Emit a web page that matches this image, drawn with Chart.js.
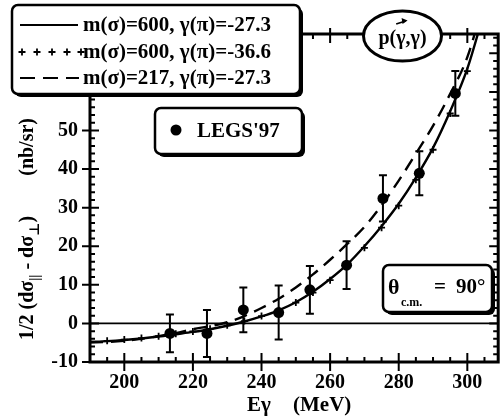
<!DOCTYPE html>
<html>
<head>
<meta charset="utf-8">
<script src="https://cdn.jsdelivr.net/npm/chart.js@4.4.0/dist/chart.umd.min.js"></script>
<style>
  html, body { margin: 0; padding: 0; background: #fff; }
</style>
</head>
<body>
<canvas id="chart" width="504" height="417"></canvas>
<script>
// Model curves, sampled every 5 MeV
const energyGrid = [190, 195, 200, 205, 210, 215, 220, 225, 230, 235, 240, 245,
                    250, 255, 260, 265, 270, 275, 280, 285, 290, 295, 300, 305];
const curveSolid = [-4.8, -4.6, -4.3, -3.9, -3.4, -2.8, -2.2, -1.5, -0.6, 0.5, 1.8, 3.4,
                    5.5, 8.2, 11.5, 15.3, 20.0, 25.2, 31.0, 37.8, 45.5, 55.0, 66.0, 81.0];
const curvePlus = [-4.7, -4.5, -4.2, -3.8, -3.3, -2.7, -2.1, -1.4, -0.5, 0.6, 1.9, 3.4,
                   5.4, 8.0, 11.2, 15.0, 19.6, 24.8, 30.5, 37.2, 45.0, 54.4, 65.4, 80.0];
const curveDashed = [-4.9, -4.8, -4.5, -4.0, -3.3, -2.5, -1.5, -0.7, 0.3, 1.9, 4.0, 6.4,
                     9.3, 12.7, 16.5, 20.6, 25.0, 30.6, 37.0, 44.0, 51.2, 59.5, 69.0, 84.0];

// LEGS'97 measurements
const dataEnergy = [213.3, 224.1, 234.7, 245.0, 254.1, 264.8, 275.4, 286.0, 296.5];
const dataValue = [-2.6, -2.6, 3.5, 2.8, 8.7, 15.1, 32.4, 38.9, 59.6];
const dataError = [4.9, 6.1, 5.8, 7.0, 6.2, 6.2, 6.0, 5.7, 5.8];

const xTicks = [200, 220, 240, 260, 280, 300];
const yTicks = [-10, 0, 10, 20, 30, 40, 50];
const legendLabels = ['m(σ)=600, γ(π)=-27.3', 'm(σ)=600, γ(π)=-36.6', 'm(σ)=217, γ(π)=-27.3'];

const SERIF = '"Liberation Serif", "DejaVu Serif", serif';
const font = (size) => `bold ${size}px ${SERIF}`;

const toPoints = (ys) => energyGrid.map((x, i) => ({ x: x, y: ys[i] }));

function roundRect(ctx, x, y, w, h, r) {
    ctx.beginPath();
    ctx.moveTo(x + r, y);
    ctx.arcTo(x + w, y, x + w, y + h, r);
    ctx.arcTo(x + w, y + h, x, y + h, r);
    ctx.arcTo(x, y + h, x, y, r);
    ctx.arcTo(x, y, x + w, y, r);
    ctx.closePath();
}

function shadowBox(ctx, x, y, w, h) {
    ctx.fillStyle = '#000';
    roundRect(ctx, x + 3, y + 3, w, h, 6);
    ctx.fill();
    ctx.fillStyle = '#fff';
    roundRect(ctx, x, y, w, h, 6);
    ctx.fill();
    ctx.lineWidth = 2.5;
    ctx.strokeStyle = '#000';
    ctx.stroke();
}

function cross(ctx, x, y, s) {
    ctx.beginPath();
    ctx.moveTo(x - s, y); ctx.lineTo(x + s, y);
    ctx.moveTo(x, y - s); ctx.lineTo(x, y + s);
    ctx.stroke();
}

// frame, inward ticks, zero line and error bars
const framePlugin = {
    id: 'frame',
    afterDatasetsDraw(chart) {
        const ctx = chart.ctx;
        const a = chart.chartArea;
        const xs = chart.scales.x, ys = chart.scales.y;
        ctx.save();
        ctx.strokeStyle = '#000';
        ctx.fillStyle = '#000';

        // zero line
        ctx.lineWidth = 1.6;
        const y0 = ys.getPixelForValue(0);
        ctx.beginPath(); ctx.moveTo(a.left, y0); ctx.lineTo(a.right, y0); ctx.stroke();

        // error bars
        ctx.lineWidth = 2;
        dataEnergy.forEach((e, i) => {
            const px = xs.getPixelForValue(e);
            const top = ys.getPixelForValue(dataValue[i] + dataError[i]);
            const bot = ys.getPixelForValue(dataValue[i] - dataError[i]);
            ctx.beginPath();
            ctx.moveTo(px, top); ctx.lineTo(px, bot);
            ctx.moveTo(px - 4, top); ctx.lineTo(px + 4, top);
            ctx.moveTo(px - 4, bot); ctx.lineTo(px + 4, bot);
            ctx.stroke();
        });

        // box
        ctx.lineWidth = 3;
        ctx.strokeRect(a.left, a.top, a.right - a.left, a.bottom - a.top);

        // x ticks (bottom and top)
        ctx.lineWidth = 2;
        for (let v = 190; v <= xs.max; v += 5) {
            const px = xs.getPixelForValue(v);
            const major = xTicks.includes(v);
            const inLen = major ? 9 : 5;
            const outLen = major ? 9 : 0;
            ctx.beginPath();
            ctx.moveTo(px, a.bottom + outLen); ctx.lineTo(px, a.bottom - inLen);
            ctx.moveTo(px, a.top - (major ? 6 : 0)); ctx.lineTo(px, a.top + inLen);
            ctx.stroke();
        }
        // y ticks (left and right)
        for (let v = -10; v <= ys.max; v += 2) {
            const py = ys.getPixelForValue(v);
            const major = v % 10 === 0;
            const inLen = major ? 9 : 5;
            ctx.beginPath();
            ctx.moveTo(a.left - (major ? 8 : 0), py); ctx.lineTo(a.left + inLen, py);
            ctx.moveTo(a.right, py); ctx.lineTo(a.right - inLen, py);
            ctx.stroke();
        }
        ctx.restore();
    }
};

// legend, labels and boxes
const notePlugin = {
    id: 'notes',
    afterDraw(chart) {
        const ctx = chart.ctx;
        ctx.save();
        ctx.strokeStyle = '#000';
        ctx.fillStyle = '#000';

        // legend box
        shadowBox(ctx, 12, 5, 288, 89);
        const rows = [25, 52, 78];
        ctx.lineWidth = 2.2;
        ctx.beginPath(); ctx.moveTo(20, rows[0]); ctx.lineTo(78, rows[0]); ctx.stroke();
        ctx.lineWidth = 1.8;
        [22, 37, 52, 67, 81].forEach(cx => cross(ctx, cx, rows[1], 3.5));
        ctx.lineWidth = 2.2;
        ctx.setLineDash([15, 8]);
        ctx.beginPath(); ctx.moveTo(20, rows[2]); ctx.lineTo(79, rows[2]); ctx.stroke();
        ctx.setLineDash([]);
        ctx.fillStyle = '#000';
        ctx.font = font(21);
        ctx.textBaseline = 'middle';
        ctx.textAlign = 'left';
        legendLabels.forEach((t, i) => ctx.fillText(t, 83, rows[i] + 1));

        // reaction ellipse
        ctx.beginPath();
        ctx.ellipse(402.5, 36, 39, 25, 0, 0, Math.PI * 2);
        ctx.fillStyle = '#fff';
        ctx.fill();
        ctx.lineWidth = 3;
        ctx.stroke();
        ctx.fillStyle = '#000';
        ctx.font = font(20);
        ctx.textAlign = 'left';
        ctx.textBaseline = 'alphabetic';
        const reac = 'p(γ,γ)';
        const rw = ctx.measureText(reac).width;
        const rx = 402.5 - rw / 2;
        ctx.fillText(reac, rx, 44);
        const gx = rx + ctx.measureText('p(').width;
        const gw = ctx.measureText('γ').width;
        ctx.lineWidth = 1.8;
        ctx.beginPath();
        ctx.moveTo(gx, 24); ctx.lineTo(gx + gw, 21);
        ctx.stroke();
        ctx.beginPath();
        ctx.moveTo(gx + gw + 2, 20.5); ctx.lineTo(gx + gw - 4, 18); ctx.lineTo(gx + gw - 3, 24);
        ctx.closePath(); ctx.fill();

        // LEGS'97 box
        shadowBox(ctx, 155, 108, 147, 46);
        ctx.fillStyle = '#000';
        ctx.beginPath(); ctx.arc(176, 130, 5.5, 0, Math.PI * 2); ctx.fill();
        ctx.font = font(21);
        ctx.textBaseline = 'middle';
        ctx.fillText("LEGS'97", 197, 132);

        // angle box
        shadowBox(ctx, 383, 265, 109, 47);
        ctx.fillStyle = '#000';
        ctx.textBaseline = 'alphabetic';
        ctx.font = font(22);
        ctx.fillText('θ', 388, 294);
        ctx.font = font(12);
        ctx.fillText('c.m.', 401, 306);
        ctx.font = font(21);
        ctx.fillText('=', 434, 293);
        ctx.fillText('90°', 456, 293);

        // x title
        ctx.font = font(21);
        ctx.fillText('Eγ', 247, 411);
        ctx.fillText('(MeV)', 293, 411);

        // y title, rotated
        ctx.translate(33, 340);
        ctx.rotate(-Math.PI / 2);
        let pos = 0;
        const run = (t, size, dy) => {
            ctx.font = font(size);
            ctx.fillText(t, pos, dy);
            pos += ctx.measureText(t).width;
        };
        run('1/2 (dσ', 20, 0);
        run('||', 14, 6);
        run(' - dσ', 20, 0);
        run('⊥', 14, 6);
        run(')', 20, 0);
        ctx.font = font(20);
        ctx.textAlign = 'right';
        ctx.fillText('(nb/sr)', 222, 0);
        ctx.restore();
    }
};

new Chart(document.getElementById('chart'), {
    type: 'line',
    data: {
        datasets: [
            { label: legendLabels[0], data: toPoints(curveSolid), borderColor: '#000', borderWidth: 2.4,
              pointRadius: 0, cubicInterpolationMode: 'monotone', clip: 0 },
            { label: legendLabels[1], data: toPoints(curvePlus), showLine: false, pointStyle: 'cross',
              pointRadius: 3.5, pointBorderWidth: 1.8, pointBorderColor: '#000', clip: 0 },
            { label: legendLabels[2], data: toPoints(curveDashed), borderColor: '#000', borderWidth: 2.4,
              borderDash: [13, 8], pointRadius: 0, cubicInterpolationMode: 'monotone', clip: 0 },
            { type: 'scatter', label: "LEGS'97",
              data: dataEnergy.map((x, i) => ({ x: x, y: dataValue[i] })),
              pointRadius: 5.5, backgroundColor: '#000', borderColor: '#000', pointBorderWidth: 0 }
        ]
    },
    options: {
        responsive: false,
        animation: false,
        devicePixelRatio: 1,
        layout: { padding: { top: 34, right: 5, left: 0, bottom: 0 } },
        plugins: { legend: { display: false }, tooltip: { enabled: false } },
        scales: {
            x: {
                type: 'linear', min: 190, max: 309,
                grid: { display: false, drawTicks: false },
                border: { display: false },
                afterBuildTicks: (s) => { s.ticks = xTicks.map(v => ({ value: v })); },
                afterFit: (s) => { s.height = 55; },
                ticks: { padding: 9, color: '#000', font: { family: SERIF, size: 20, weight: 'bold' } }
            },
            y: {
                type: 'linear', min: -10, max: 75,
                grid: { display: false, drawTicks: false },
                border: { display: false },
                afterBuildTicks: (s) => { s.ticks = yTicks.map(v => ({ value: v })); },
                afterFit: (s) => { s.width = 90; },
                ticks: { padding: 12, color: '#000', font: { family: SERIF, size: 20, weight: 'bold' } }
            }
        }
    },
    plugins: [framePlugin, notePlugin]
});
</script>
</body>
</html>
